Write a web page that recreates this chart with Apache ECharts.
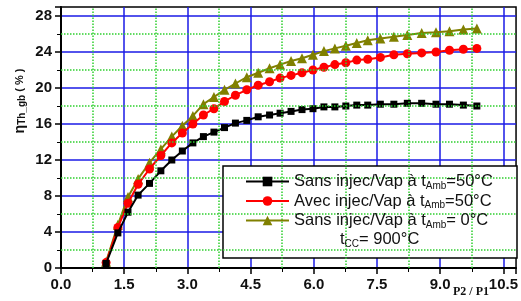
<!DOCTYPE html>
<html>
<head>
<meta charset="utf-8">
<script src="https://cdn.jsdelivr.net/npm/echarts@6/dist/echarts.min.js"></script>
<style>
  html, body { margin: 0; padding: 0; background: #fff; }
  #chart { width: 521px; height: 301px; }
</style>
</head>
<body>
<div id="chart"></div>
<script>
// pressure ratio P2/P1 (shared by all curves)
var ratio = [1.07, 1.35, 1.59, 1.83, 2.10, 2.37, 2.63, 2.88, 3.13, 3.38, 3.63, 3.88, 4.14, 4.41, 4.68, 4.95, 5.20,
             5.46, 5.72, 5.98, 6.24, 6.50, 6.76, 7.02, 7.28, 7.58, 7.90, 8.22, 8.56, 8.90, 9.22, 9.55, 9.87];
var sans50 = [0.5, 3.9, 6.2, 8.1, 9.4, 10.8, 12.0, 13.0, 13.9, 14.6, 15.1, 15.6, 16.1, 16.4, 16.8, 17.0, 17.2,
              17.4, 17.6, 17.7, 17.9, 17.9, 18.0, 18.1, 18.1, 18.2, 18.2, 18.3, 18.3, 18.2, 18.2, 18.1, 18.0];
var avec50 = [0.6, 4.5, 7.2, 9.3, 11.0, 12.5, 13.9, 15.0, 16.0, 17.0, 17.7, 18.5, 19.2, 19.8, 20.3, 20.7, 21.1,
              21.4, 21.7, 22.0, 22.3, 22.6, 22.8, 23.1, 23.2, 23.4, 23.7, 23.8, 23.9, 24.0, 24.2, 24.3, 24.4];
var sans0 = [0.7, 4.8, 7.9, 9.9, 11.7, 13.2, 14.6, 15.8, 16.9, 18.2, 19.0, 19.8, 20.5, 21.2, 21.7, 22.2, 22.6,
             23.0, 23.3, 23.7, 24.1, 24.4, 24.7, 25.0, 25.3, 25.5, 25.7, 25.9, 26.1, 26.2, 26.3, 26.5, 26.6];

// half-step grid lines (green dotted)
var xMinor = [0.75, 2.25, 3.75, 5.25, 6.75, 8.25, 9.75];
var yMinor = [2, 6, 10, 14, 18, 22, 26];

var names = ['Sans50', 'Avec50', 'Sans0'];
var legendText = {
  Sans50: '{a|Sans injec/Vap à t}{s|Amb}{a|=50°C}',
  Avec50: '{a|Avec injec/Vap à t}{s|Amb}{a|=50°C}',
  Sans0: '{a|Sans injec/Vap à t}{s|Amb}{a|= 0°C}'
};

var pairs = (ys) => ratio.map((x, i) => [x, ys[i]]);

var blue = '#1a1ae6';
var green = '#2ecf2e';
var labelFont = { color: '#111', fontWeight: 'bold', fontSize: 15, fontFamily: 'Liberation Sans' };
var richLeg = {
  a: { fontSize: 16.5, fontFamily: 'Liberation Sans', lineHeight: 19, color: '#111', fill: '#111' },
  s: { fontSize: 10, fontFamily: 'Liberation Sans', lineHeight: 10, verticalAlign: 'bottom', color: '#111', fill: '#111' }
};

var mainAxis = (max, interval, fmt, pos) => ({
  type: 'value', min: 0, max: max, interval: interval, position: pos,
  axisLine: { show: true, lineStyle: { color: '#000', width: 2 } },
  axisTick: { show: true, inside: false, length: 6, lineStyle: { color: '#000', width: 1.5 } },
  minorTick: { show: true, splitNumber: 2, length: 4, lineStyle: { color: '#000', width: 1 } },
  axisLabel: Object.assign({ showMaxLabel: false, margin: 9, formatter: fmt }, labelFont),
  splitLine: { show: true, showMinLine: false, showMaxLine: false, lineStyle: { color: blue, width: 1.5 } }
});

var chart = echarts.init(document.getElementById('chart'));
chart.setOption({
  animation: false,
  backgroundColor: '#fff',
  grid: { left: 61, top: 7, right: 4, bottom: 33, show: true, borderColor: '#000', borderWidth: 1.5 },
  xAxis: mainAxis(10.8, 1.5, (v) => v.toFixed(1), 'bottom'),
  yAxis: mainAxis(29, 4, (v) => String(v), 'left'),
  legend: {
    orient: 'vertical', left: 245, top: 173, padding: 0, itemGap: 1.5,
    itemWidth: 43, itemHeight: 12, z: 10,
    data: names,
    formatter: (n) => legendText[n],
    textStyle: { color: '#111', rich: richLeg }
  },
  graphic: [
    { type: 'rect', z: 5, shape: { x: 223, y: 166, width: 294, height: 92 },
      style: { fill: '#fff', stroke: '#000', lineWidth: 1.5 } },
    { type: 'text', z: 10, left: 340, top: 231,
      style: { text: '{a|t}{s|CC}{a|= 900°C}', rich: richLeg } },
    { type: 'text', z: 10, x: 20, y: 101, rotation: Math.PI / 2,
      style: { text: '{e|η}{s|Th_gb}{p| ( % )}', align: 'center', verticalAlign: 'middle',
               rich: {
                 e: { fontSize: 14, fontWeight: 'bold', fontFamily: 'Liberation Sans', lineHeight: 15, fill: '#111' },
                 s: { fontSize: 10, fontWeight: 'bold', fontFamily: 'Liberation Sans', lineHeight: 10, verticalAlign: 'bottom', fill: '#111' },
                 p: { fontSize: 11, fontWeight: 'bold', fontFamily: 'Liberation Sans', lineHeight: 15, fill: '#111' }
               } } },
    { type: 'text', z: 10, left: 453, top: 286,
      style: { text: 'P2 / P1', fontSize: 12, fontWeight: 'bold', fontFamily: 'Liberation Serif', fill: '#111' } }
  ],
  series: [
    { name: 'Sans50', type: 'line', data: pairs(sans50),
      symbol: 'rect', symbolSize: 7, color: '#000', lineStyle: { width: 2 }, z: 4 },
    { name: 'Avec50', type: 'line', data: pairs(avec50),
      symbol: 'circle', symbolSize: 9, color: '#ff0000', lineStyle: { width: 2 }, z: 3 },
    { name: 'Sans0', type: 'line', data: pairs(sans0),
      symbol: 'triangle', symbolSize: 10, color: '#808000', lineStyle: { width: 2 }, z: 2,
      markLine: {
        silent: true, symbol: 'none', animation: false,
        label: { show: false },
        emphasis: { disabled: true },
        lineStyle: { color: green, width: 1.5, type: 'dotted', opacity: 1 },
        data: xMinor.map((v) => ({ xAxis: v })).concat(yMinor.map((v) => ({ yAxis: v })))
      } }
  ]
});
</script>
</body>
</html>
